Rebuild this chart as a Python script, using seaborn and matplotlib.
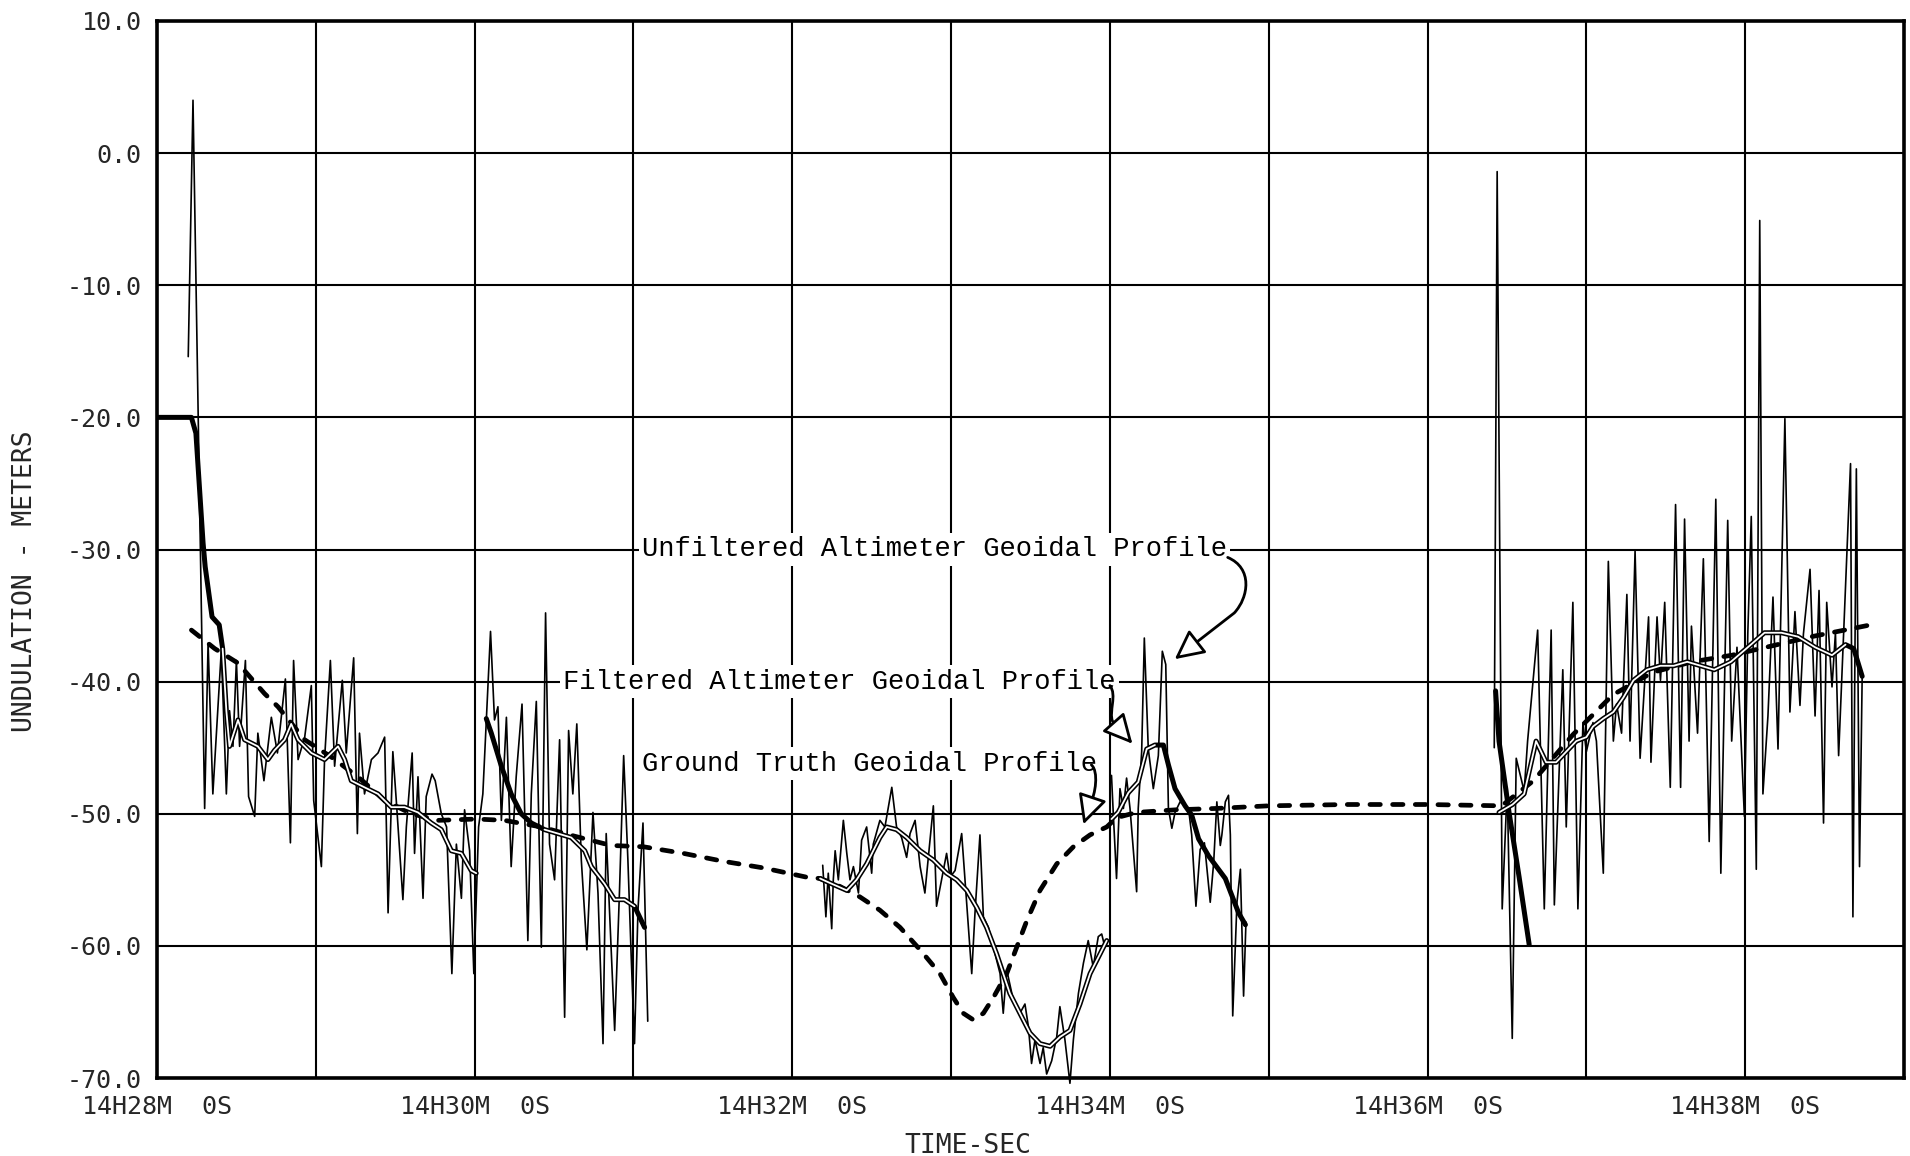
import numpy as np
import pandas as pd
import seaborn as sns
import matplotlib
matplotlib.use("Agg")
import matplotlib.pyplot as plt
from matplotlib.patches import FancyArrowPatch
from matplotlib.path import Path

# ---------------------------------------------------------------------------
# Time is seconds after 14H28M 0S; undulation in meters.
# ---------------------------------------------------------------------------

# Unfiltered altimeter geoidal profile, one list pair per data pass
unf_t_1 = [11.8, 13.6, 18.0, 19.3, 21.1, 24.3, 26.2, 27.4, 28.7, 30.0, 31.2, 33.4, 34.6, 36.9,
           38.1, 40.4, 43.2, 45.5, 48.5, 50.4, 51.6, 53.3, 55.8, 58.3, 59.2, 62.1, 63.3, 65.5,
           67.1, 70.0, 71.5, 74.3, 75.7, 76.5, 78.4, 81.0, 83.5, 86.0, 87.3, 89.1, 90.4, 92.9,
           94.2, 96.4, 97.3, 98.6, 100.5, 101.7, 103.9, 105.1, 107.4, 109.4, 111.4, 113.1,
           115.0, 116.2, 118.1, 119.7, 121.5, 123.1, 126.0, 127.5, 128.8, 130.1, 132.0, 133.8,
           135.7, 137.9, 140.1, 141.4, 143.3, 145.2, 146.8, 148.3, 150.2, 152.1, 154.0, 155.5,
           157.1, 158.6, 160.3, 162.4, 164.7, 166.6, 168.5, 169.7, 172.9, 174.7, 176.3, 177.9,
           179.2, 180.4, 181.7, 183.6, 185.4]
unf_v_1 = [-15.4, 4.0, -49.6, -37.1, -48.5, -37.6, -48.5, -42.2, -44.9, -38.4, -44.9, -38.4, -48.7,
           -50.2, -43.9, -47.5, -42.7, -45.4, -39.8, -52.2, -38.4, -45.9, -44.2, -40.3, -49.0,
           -54.0, -45.9, -38.4, -46.4, -39.9, -45.4, -38.2, -51.5, -43.9, -48.5, -45.9, -45.4,
           -44.2, -57.5, -45.3, -49.0, -56.5, -51.0, -45.4, -53.0, -47.2, -56.4, -48.7, -47.0,
           -47.5, -50.0, -51.0, -62.1, -52.3, -56.4, -49.7, -52.8, -62.1, -51.0, -48.5, -36.2,
           -42.9, -41.9, -50.5, -42.7, -54.0, -47.2, -41.7, -59.6, -48.5, -41.5, -60.1, -34.8,
           -52.3, -55.0, -44.4, -65.4, -43.7, -48.5, -43.2, -53.5, -60.3, -49.9, -56.0, -67.4,
           -51.5, -66.4, -56.0, -45.6, -53.5, -61.1, -67.4, -57.3, -50.7, -65.7]

unf_t_2 = [251.5, 252.7, 253.6, 254.9, 255.5, 256.2, 257.4, 259.3, 260.6, 261.8, 263.1, 265.0,
           266.2, 268.1, 270.0, 270.6, 273.1, 275.0, 277.6, 279.4, 281.3, 283.2, 284.5, 286.4,
           288.3, 290.1, 291.4, 293.3, 294.5, 296.4, 298.3, 299.6, 301.5, 304.0, 305.9, 307.8,
           309.0, 310.9, 312.2, 314.1, 316.6, 318.5, 319.7, 321.0, 323.5, 326.0, 327.9, 329.2,
           330.4, 331.7, 333.6, 334.8, 336.1, 338.0, 339.9, 341.1, 343.0, 344.9, 346.2, 348.1,
           350.0, 351.8, 353.7, 355.6, 356.9, 358.1, 358.8]
unf_v_2 = [-53.9, -57.8, -54.5, -58.7, -55.0, -52.8, -55.0, -50.5, -53.0, -55.0, -54.0, -56.0,
           -52.0, -51.0, -54.5, -52.3, -50.5, -51.0, -48.0, -51.0, -51.8, -53.3, -51.5, -50.5,
           -54.0, -56.0, -53.3, -49.4, -57.0, -55.0, -53.0, -54.8, -54.3, -51.5, -56.8, -62.1,
           -57.6, -51.6, -57.8, -58.6, -60.6, -62.1, -65.1, -61.8, -64.1, -65.1, -64.4, -66.1,
           -68.9, -67.1, -68.9, -67.7, -69.7, -68.7, -66.9, -64.6, -67.1, -70.4, -67.1, -63.6,
           -61.3, -59.6, -61.6, -59.3, -59.1, -60.1, -59.8]

unf_t_3 = [360.6, 361.3, 362.5, 363.8, 365.1, 366.3, 367.6, 370.1, 370.7, 372.0, 373.0, 374.5,
           376.4, 378.3, 379.8, 381.1, 382.1, 383.4, 384.6, 386.5, 389.7, 390.9, 392.5, 394.1,
           395.7, 397.9, 399.2, 400.4, 401.7, 402.3, 403.6, 404.8, 405.5, 406.4, 408.0, 409.3,
           410.5, 411.4]
unf_v_3 = [-47.1, -50.1, -54.9, -48.1, -49.6, -47.3, -49.6, -55.9, -49.6, -45.3, -36.7, -45.1,
           -48.1, -45.6, -37.7, -38.7, -49.6, -51.1, -49.9, -49.1, -49.6, -51.6, -57.0, -52.7,
           -52.2, -56.7, -53.7, -49.1, -52.4, -51.6, -49.1, -48.6, -51.6, -65.3, -56.7, -54.2,
           -63.8, -58.2]

unf_t_4 = [505.2, 506.3, 508.2, 510.1, 512.0, 513.5, 516.5, 517.8, 521.6, 524.1, 526.7, 527.9,
           531.1, 532.4, 534.9, 536.8, 538.7, 540.0, 542.5, 543.8, 546.4, 548.3, 550.2, 551.4,
           553.3, 555.3, 556.5, 558.4, 560.3, 563.5, 564.4, 566.7, 568.0, 569.6, 571.7, 573.7,
           575.6, 577.1, 578.8, 579.7, 582.0, 584.2, 586.4, 588.9, 590.8, 593.4, 594.9, 596.9,
           599.7, 601.0, 602.3, 604.2, 605.5, 606.7, 608.6, 610.5, 612.4, 615.0, 616.9, 618.8,
           620.7, 622.0, 624.5, 626.4, 627.9, 629.6, 630.8, 632.8, 634.1, 635.3, 637.2, 639.8,
           640.7, 642.0, 643.2, 644.2]
unf_v_4 = [-45.0, -1.4, -57.2, -48.0, -67.0, -45.8, -48.3, -44.5, -36.1, -57.2, -36.1, -56.9,
           -39.1, -51.0, -34.0, -57.2, -43.1, -45.3, -43.1, -44.5, -54.5, -30.9, -44.5, -41.7,
           -43.9, -33.4, -44.5, -30.1, -45.8, -35.1, -46.1, -35.1, -39.9, -34.0, -48.0, -26.6,
           -48.0, -27.7, -44.5, -35.8, -43.9, -30.7, -52.1, -26.2, -54.5, -27.8, -44.5, -37.4,
           -50.2, -36.3, -27.5, -54.2, -5.1, -48.5, -42.6, -33.6, -45.1, -20.1, -42.3, -34.7,
           -41.8, -36.4, -31.5, -42.6, -33.1, -50.7, -34.0, -40.4, -36.3, -45.6, -36.3, -23.5,
           -57.8, -23.9, -54.0, -39.6]

# Filtered altimeter geoidal profile (filter restarts at each pass)
flt_t_a = [0.0, 13.0, 14.7, 17.4, 18.2, 20.8, 23.5, 24.8, 26.2, 27.4, 30.6, 33.1, 38.1, 41.9,
           44.4, 48.2, 50.7, 53.3, 58.3, 63.3, 68.4, 70.9, 73.4, 78.4, 83.5, 88.5, 93.5, 98.6,
           103.6, 107.4, 111.2, 115.0, 118.7, 120.6]
flt_v_a = [-20.0, -20.0, -21.2, -29.5, -31.3, -35.1, -35.7, -37.5, -42.2, -44.9, -42.9, -44.4,
           -44.9, -45.9, -45.2, -44.4, -43.2, -44.4, -45.4, -45.9, -44.9, -45.9, -47.5, -48.0,
           -48.5, -49.5, -49.5, -49.9, -50.7, -51.2, -52.8, -53.0, -54.3, -54.5]

flt_t_b = [124.4, 126.3, 130.1, 133.8, 137.6, 141.4, 146.4, 151.5, 156.5, 161.6, 164.1, 169.1,
           172.9, 176.6, 180.4, 184.2]
flt_v_b = [-42.8, -43.9, -46.4, -48.5, -50.0, -50.7, -51.2, -51.5, -51.8, -52.8, -54.0, -55.3,
           -56.5, -56.5, -57.0, -58.6]

flt_t_c = [250.5, 254.9, 260.6, 264.3, 268.1, 273.1, 275.7, 279.4, 283.2, 288.3, 293.3, 298.3,
           302.1, 305.9, 309.7, 313.4, 317.2, 319.7, 322.2, 326.0, 329.8, 333.6, 337.4, 341.1,
           344.9, 348.7, 352.5, 356.3, 358.8]
flt_v_c = [-54.9, -55.3, -55.8, -55.0, -53.8, -51.8, -51.0, -51.2, -51.8, -52.8, -53.5, -54.5,
           -55.0, -55.8, -57.1, -58.6, -60.6, -62.1, -63.6, -65.1, -66.6, -67.4, -67.6, -66.9,
           -66.4, -64.4, -62.1, -60.6, -59.6]

flt_t_d = [360.6, 363.1, 367.0, 370.7, 373.9, 377.0, 380.2, 382.1, 384.6, 388.4, 390.9, 393.5,
           397.3, 401.0, 403.6, 406.1, 408.6, 411.2]
flt_v_d = [-50.4, -49.9, -48.4, -47.6, -45.1, -44.8, -44.8, -46.3, -48.1, -49.4, -50.1, -51.9,
           -53.2, -54.2, -54.9, -56.2, -57.5, -58.4]

flt_t_e1 = [505.7, 507.0, 510.8, 514.6, 518.4]
flt_v_e1 = [-40.7, -44.5, -49.9, -54.8, -59.9]

flt_t_e2 = [507.0, 512.1, 516.5, 521.0, 524.8, 528.6, 532.4, 536.2, 540.0, 542.5, 546.4, 550.2,
            554.0, 557.8, 562.9, 568.0, 573.0, 578.1, 583.2, 588.3, 594.6, 601.0, 607.3, 613.7,
            620.0, 626.4, 632.8, 637.9, 641.0, 644.2]
flt_v_e2 = [-49.9, -49.3, -48.5, -44.5, -46.1, -46.1, -45.3, -44.5, -44.2, -43.4, -42.8, -42.3,
            -41.2, -39.9, -39.1, -38.8, -38.8, -38.5, -38.8, -39.1, -38.5, -37.4, -36.3, -36.3,
            -36.6, -37.4, -38.0, -37.2, -37.5, -39.6]

# Ground truth geoidal profile
gt_t = [13.0, 21.8, 30.6, 40.6, 45.7, 55.8, 65.8, 75.9, 86.0, 96.1, 106.1, 120.6, 131.3, 145.2,
        157.8, 171.6, 183.8, 198.9, 214.0, 229.1, 245.4, 250.5, 258.0, 265.6, 273.1, 280.7,
        288.3, 295.8, 300.8, 304.6, 308.4, 312.2, 316.0, 321.0, 324.8, 328.6, 333.6, 339.9,
        346.2, 352.5, 358.8, 362.5, 370.0, 385.0, 400.0, 420.0, 450.0, 480.0, 508.0, 520.0,
        535.0, 550.0, 565.0, 580.0, 595.0, 610.0, 625.0, 640.0, 650.0]
gt_v = [-36.1, -37.5, -38.6, -40.9, -41.9, -44.4, -45.7, -47.2, -49.0, -50.0, -50.5, -50.4,
        -50.5, -51.0, -51.7, -52.4, -52.5, -53.0, -53.6, -54.1, -54.8, -54.9, -55.5, -56.3,
        -57.3, -58.6, -60.3, -62.1, -63.9, -65.1, -65.6, -65.1, -63.9, -62.1, -60.1, -58.1,
        -55.8, -53.8, -52.5, -51.6, -51.0, -50.3, -49.9, -49.7, -49.6, -49.4, -49.3, -49.3,
        -49.4, -47.5, -44.0, -41.0, -39.3, -38.5, -38.0, -37.3, -36.6, -36.0, -35.6]

# Axis ticks
x_tick_sec = list(range(0, 661, 60))
x_tick_text = ["14H28M  0S", "", "14H30M  0S", "", "14H32M  0S", "", "14H34M  0S", "",
               "14H36M  0S", "", "14H38M  0S", ""]
y_ticks = [10, 0, -10, -20, -30, -40, -50, -60, -70]
y_tick_text = ["10.0", "0.0", "-10.0", "-20.0", "-30.0", "-40.0", "-50.0", "-60.0", "-70.0"]

# ---------------------------------------------------------------------------
def frame(pairs):
    rows = []
    for name, (ts, vs) in pairs.items():
        rows.append(pd.DataFrame({"t": ts, "v": vs, "seg": name}))
    return pd.concat(rows, ignore_index=True)

unf = frame({"p1": (unf_t_1, unf_v_1), "p2": (unf_t_2, unf_v_2),
             "p3": (unf_t_3, unf_v_3), "p4": (unf_t_4, unf_v_4)})
flt = frame({"a": (flt_t_a, flt_v_a), "b": (flt_t_b, flt_v_b), "c": (flt_t_c, flt_v_c),
             "d": (flt_t_d, flt_v_d), "e1": (flt_t_e1, flt_v_e1), "e2": (flt_t_e2, flt_v_e2)})
gt = pd.DataFrame({"t": gt_t, "v": gt_v, "seg": "gt"})

# stretches of the filtered trace drawn as an open (white-cored) line
core_spans = {"a": (24.8, 121.0), "b": (146.0, 182.0), "c": (250.0, 359.0),
              "d": (360.0, 378.0), "e2": (507.0, 640.0)}
core = pd.concat([flt[(flt.seg == s) & (flt.t >= lo) & (flt.t <= hi)]
                  for s, (lo, hi) in core_spans.items()], ignore_index=True)

sns.set_theme(style="white")
plt.rcParams["font.family"] = ["DejaVu Sans Mono", "DejaVu Sans"]
plt.rcParams["axes.unicode_minus"] = False

fig = plt.figure(figsize=(19.10, 11.56), dpi=100)
ax = fig.add_axes([157 / 1910, 1 - 1078 / 1156, (1904 - 157) / 1910, (1078 - 21) / 1156])
ax.set_facecolor("white")

sns.lineplot(data=unf, x="t", y="v", units="seg", estimator=None, sort=False,
             color="black", lw=1.2, ax=ax, zorder=3, clip_on=False)
sns.lineplot(data=gt, x="t", y="v", estimator=None, sort=False, color="black", lw=3.4,
             ax=ax, zorder=4, linestyle=(0, (2.2, 2.6)), dash_capstyle="round")
sns.lineplot(data=flt, x="t", y="v", units="seg", estimator=None, sort=False,
             color="black", lw=3.6, ax=ax, zorder=5)
sns.lineplot(data=core, x="t", y="v", units="seg", estimator=None, sort=False,
             color="white", lw=1.3, ax=ax, zorder=6)

ax.set_xlim(0, 660)
ax.set_ylim(-70, 10)
ax.set_xticks(x_tick_sec)
ax.set_xticklabels(x_tick_text, fontsize=18)
ax.set_yticks(y_ticks)
ax.set_yticklabels(y_tick_text, fontsize=18)
ax.tick_params(axis="both", length=0)
ax.tick_params(axis="y", pad=11)
ax.tick_params(axis="x", pad=12)
ax.grid(True, color="black", lw=1.5, zorder=1)
ax.set_axisbelow(True)
for side in ["left", "right", "top", "bottom"]:
    ax.spines[side].set_visible(True)
    ax.spines[side].set_color("black")
    ax.spines[side].set_linewidth(2.6)
    ax.spines[side].set_zorder(8)

ax.set_xlabel("TIME-SEC", fontsize=19)
ax.xaxis.set_label_coords((968 - 157) / (1904 - 157), -0.052)
ax.set_ylabel("UNDULATION - METERS", fontsize=19)
ax.yaxis.set_label_coords(-0.068, 0.47)

# Annotations
label_font = dict(family=["Liberation Mono", "DejaVu Sans Mono"], fontsize=19.5, color="black",
                  va="center", ha="left", zorder=9,
                  bbox=dict(boxstyle="square,pad=0.12", fc="white", ec="none"))
ax.text(183.2, -30.0, "Unfiltered Altimeter Geoidal Profile", **label_font)
ax.text(153.5, -40.0, "Filtered Altimeter Geoidal Profile", **label_font)
ax.text(183.2, -46.2, "Ground Truth Geoidal Profile", **label_font)

def curved_arrow(p0, c1, c2, p1, tip):
    verts = [p0, c1, c2, p1, tip]
    codes = [Path.MOVETO, Path.CURVE4, Path.CURVE4, Path.CURVE4, Path.LINETO]
    arr = FancyArrowPatch(path=Path(verts, codes),
                          arrowstyle="-|>,head_length=0.9,head_width=0.45",
                          mutation_scale=20, lw=2.0, ec="black", fc="white", zorder=10)
    ax.add_patch(arr)

curved_arrow((404.5, -30.6), (414.0, -31.4), (412.5, -33.6), (407.0, -34.8), (384.5, -38.3))
curved_arrow((360.0, -40.3), (362.8, -41.0), (359.5, -42.3), (361.0, -43.0), (368.5, -44.7))
curved_arrow((353.0, -46.3), (355.8, -46.8), (354.6, -48.5), (352.5, -49.3), (350.0, -50.8))

fig.savefig("out.png", dpi=100, facecolor="white")
